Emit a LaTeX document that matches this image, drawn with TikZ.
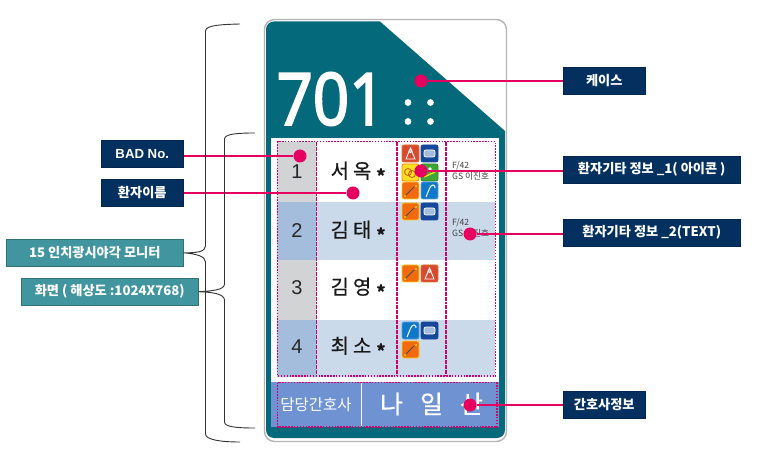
\documentclass[tikz,border=0pt]{standalone}
\usepackage{graphicx}
\usepackage{fontspec}
\setmainfont{Noto Sans CJK KR}
\newfontfamily\latinsans{Liberation Sans}
\newfontfamily\bignum[FakeBold=3]{Open Sans}
\newfontfamily\kmed[FakeBold=.6]{Noto Sans CJK KR}
\definecolor{caseteal}{HTML}{04697A}
\definecolor{navybox}{HTML}{03305F}
\definecolor{tealbox}{HTML}{40959F}
\definecolor{hot}{HTML}{E6005F}
\definecolor{dotmag}{HTML}{D0006E}
\definecolor{rowblue}{HTML}{CBDAEB}
\definecolor{numblue}{HTML}{A5BDDC}
\definecolor{numgray}{HTML}{D1D3D4}
\definecolor{barblue}{HTML}{6E92D2}
\definecolor{edge}{HTML}{B4B4B4}
\definecolor{icred}{HTML}{D84A30}
\definecolor{icblue}{HTML}{15479A}
\definecolor{icyellow}{HTML}{F7E020}
\definecolor{icorange}{HTML}{F26A10}
\definecolor{icsky}{HTML}{1078C8}
\definecolor{icgreen}{HTML}{3FA535}
\tikzset{
  x=1pt,y=-1pt,
  navy/.style={fill=navybox,draw=navybox!80!black,line width=.5pt,text=white,font=\fontsize{13.2}{15}\selectfont\bfseries,inner sep=0pt,anchor=north west},
  teal box/.style={fill=tealbox,draw=tealbox!75!black,line width=.5pt,text=white,font=\fontsize{13.2}{15}\selectfont\bfseries,inner sep=0pt,anchor=north west},
  spot/.style={circle,fill=hot,draw=none,minimum size=13pt,inner sep=0pt},
  lead/.style={draw=hot,line width=1.6pt},
  brace line/.style={draw=black!80,line width=.9pt},
  dots/.style={draw=dotmag,line width=1.7pt,dash pattern=on 1.5pt off 1.4pt},
  coldiv/.style={draw=dotmag,line width=1.5pt,dash pattern=on 2pt off .5pt},
  rowname/.style={font=\fontsize{20}{22}\selectfont\kmed,text=black!90},
  rownum/.style={font=\fontsize{20}{22}\selectfont\latinsans,text=black!85},
  small note/.style={font=\fontsize{8.6}{11}\selectfont,text=black!75,align=left,anchor=north west,inner sep=0pt},
  icon/.style={rounded corners=2pt,line width=.8pt},
}
\newcommand{\pname}[2]{#1\hspace{4pt}#2\hspace{5pt}{\bfseries\fontsize{17}{20}\selectfont\raisebox{-4pt}{*}}}
\newcommand{\icRed}[2]{\draw[icon,fill=icred,draw=icred!80!yellow] (#1,#2) rectangle ++(17,17);
  \draw[white,line width=.9pt] (#1+8.5,#2+3) -- (#1+4,#2+14) -- (#1+13,#2+14) -- cycle (#1+8.5,#2+6) circle (1.6pt);}
\newcommand{\icBlue}[2]{\draw[icon,fill=icblue,draw=icblue] (#1,#2) rectangle ++(17,17);
  \draw[fill=numblue,draw=white,line width=.7pt,rounded corners=2pt] (#1+3,#2+5) rectangle ++(11,7);}
\newcommand{\icYellow}[2]{\draw[icon,fill=icyellow,draw=orange] (#1,#2) rectangle ++(17,17);
  \draw[orange!80!black,line width=.9pt] (#1+6,#2+8) circle (3.5pt) (#1+10,#2+10) circle (3.5pt);}
\newcommand{\icGreen}[2]{\draw[icon,fill=icgreen,draw=icgreen!80!black] (#1,#2) rectangle ++(17,17);
  \draw[icyellow,line width=1.3pt] (#1+3,#2+13) -- (#1+14,#2+8);
  \fill[white] (#1+9,#2+5) circle (1.8pt);}
\newcommand{\icOrange}[2]{\draw[icon,fill=icorange,draw=icyellow!80!orange] (#1,#2) rectangle ++(17,17);
  \draw[black!70,line width=.9pt] (#1+3,#2+14) -- (#1+12,#2+5);
  \fill[icyellow] (#1+3,#2+14) circle (1pt) (#1+14,#2+4) circle (1pt);}
\newcommand{\icSky}[2]{\draw[icon,fill=icsky,draw=icsky!70!white] (#1,#2) rectangle ++(17,17);
  \draw[white,line width=1pt] (#1+5,#2+15) .. controls (#1+8,#2+8) and (#1+9,#2+3) .. (#1+12,#2+3) .. controls (#1+14,#2+3) and (#1+14,#2+5) .. (#1+14,#2+6);}
\begin{document}
\begin{tikzpicture}
\useasboundingbox (0,0) rectangle (760,470);
\fill[white] (0,0) rectangle (760,470);
% case
\draw[edge,line width=1.4pt,fill=white,rounded corners=10pt] (264.5,19.5) rectangle (506.5,441.5);
\fill[caseteal] (266,30) [rounded corners=8pt] -- (266,438) -- (505,438) [sharp corners] -- (505,131) -- (380,21.5) [rounded corners=8pt] -- (266,21.5) [sharp corners] -- cycle;
% screen rows
\fill[white] (271,138) rectangle (499,382);
\fill[rowblue] (277,202) rectangle (495,260);
\fill[rowblue] (277,319.5) rectangle (495,377);
\fill[numgray] (277,142) rectangle (316,202);
\fill[numblue] (277,202) rectangle (316,260);
\fill[numgray] (277,260) rectangle (316,319.5);
\fill[numblue] (277,319.5) rectangle (316,377);
\fill[barblue] (271,382) rectangle (499,427);
\draw[white,line width=1.2pt] (361.5,382) -- (361.5,427);
% case text
\node[text=white,font=\fontsize{72}{74}\selectfont\bignum,inner sep=0pt] (room) at (331,99) {\scalebox{.88}[1]{701}};
\fill[white] (408,102.5) circle (3.4pt) (430.5,102.5) circle (3.4pt) (408,121.5) circle (3.4pt) (430.5,121.5) circle (3.4pt);
% rows
\node[rownum] (n1) at (297,172) {1};
\node[rownum] (n2) at (297,231) {2};
\node[rownum] (n3) at (297,288) {3};
\node[rownum] (n4) at (297,347) {4};
\node[rowname] (p1) at (358,172) {\pname{서}{옥}};
\node[rowname] (p2) at (358,231) {\pname{김}{태}};
\node[rowname] (p3) at (358,288) {\pname{김}{영}};
\node[rowname] (p4) at (358,347) {\pname{최}{소}};
\node[small note] (t1) at (452,161) {F/42\\GS 이진호};
\node[small note] (t2) at (452,218) {F/42\\GS 이진호};
\node[text=white,font=\fontsize{15.5}{18}\selectfont,inner sep=0pt] (nurse) at (316,405) {담당간호사};
\node[text=white,font=\fontsize{25}{28}\selectfont\kmed,inner sep=0pt] (nname) at (431.5,404) {나\hspace{17pt}일\hspace{17pt}산};
% icons
\icRed{402}{145}\icBlue{421}{145}
\icYellow{402}{164}\icGreen{421}{164}
\icOrange{402}{182}\icSky{421}{182}
\icOrange{402}{203}\icBlue{421}{203}
\icOrange{402}{265}\icRed{421}{265}
\icSky{402}{322}\icBlue{421}{322}
\icOrange{402}{341}
% dotted frames
\draw[dots] (277.5,141.5) rectangle (495.5,376);
\draw[coldiv] (316.5,142) -- (316.5,376);
\draw[coldiv] (397,142) -- (397,376);
\draw[coldiv] (446,142) -- (446,376);
\draw[dots] (277.5,382.5) rectangle (497,427);
% boxes
\node[navy,minimum width=82pt,minimum height=27pt] (bad) at (101,140) {\latinsans BAD No.};
\node[navy,minimum width=82pt,minimum height=27pt] (name) at (101,179) {환자이름};
\node[teal box,minimum width=177pt,minimum height=27pt] (mon) at (6,239) {15 인치광시야각 모니터};
\node[teal box,minimum width=177pt,minimum height=27pt] (scr) at (21,278) {화면 ( 해상도 :1024X768)};
\node[navy,minimum width=82pt,minimum height=27pt] (cs) at (563,67) {케이스};
\node[navy,minimum width=177pt,minimum height=27pt] (i1) at (563,156) {환자기타 정보 \_1( 아이콘 )};
\node[navy,minimum width=177pt,minimum height=27pt] (i2) at (563,219) {환자기타 정보 \_2(TEXT)};
\node[navy,minimum width=82pt,minimum height=27pt] (ns) at (563,391) {간호사정보};
% spots
\node[spot] (s1) at (421,81) {};
\node[spot] (s2) at (300,156) {};
\node[spot] (s3) at (353,193) {};
\node[spot] (s4) at (421,171) {};
\node[spot] (s5) at (470,234) {};
\node[spot] (s6) at (470,405) {};
\draw[lead] (s1) -- (s1 -| cs.west);
\draw[lead] (s2 -| bad.east) -- (s2);
\draw[lead] (s3 -| name.east) -- (s3);
\draw[lead] (s4) -- (s4 -| i1.west);
\draw[lead] (s5) -- (s5 -| i2.west);
\draw[lead] (s6) -- (s6 -| ns.west);
% braces
\coordinate (b1t) at (240,24);
\coordinate (b1b) at (240,442);
\coordinate (b2t) at (255,133);
\coordinate (b2b) at (255,428);
\draw[brace line] (b1t) .. controls (222,24.5) and (205.5,25) .. (205.5,31) -- (205.5,246) .. controls (205.5,252) and (196,253) .. (mon.east) .. controls (196,254) and (205.5,256) .. (205.5,262) -- (205.5,434) .. controls (205.5,440) and (222,442) .. (b1b);
\draw[brace line] (b2t) .. controls (237,133) and (224.5,134) .. (224.5,139) -- (224.5,284) .. controls (224.5,290) and (212,291) .. (scr.east) .. controls (212,292) and (224.5,294) .. (224.5,300) -- (224.5,422) .. controls (224.5,427) and (237,428) .. (b2b);
\end{tikzpicture}
\end{document}
